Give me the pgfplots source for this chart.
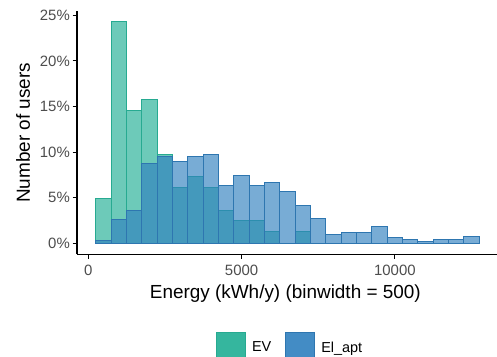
\documentclass[border=0pt]{standalone}
\usepackage{fontspec}
\setmainfont{Liberation Sans}
\usepackage{pgfplots}
\pgfplotsset{compat=1.18}
\definecolor{evc}{HTML}{1FAE94}
\definecolor{elc}{HTML}{2F80BF}
\definecolor{evline}{HTML}{27AA91}
\definecolor{elline}{HTML}{2E76B0}
\definecolor{tickgray}{HTML}{4D4D4D}
\begin{document}
\begin{tikzpicture}[x=1bp,y=1bp]
\useasboundingbox (0,0) rectangle (497,356);
\begin{axis}[
  at={(77bp,101.7bp)}, anchor=south west,
  scale only axis, width=420bp, height=243bp,
  xmin=-368, xmax=13330, ymin=-1.2, ymax=25.45,
  axis x line*=bottom, axis y line*=left,
  axis line style={black, line width=1.1bp},
  tick align=outside, major tick length=4.5bp,
  tick style={black, line width=1bp},
  xtick={0,5000,10000}, ytick={0,5,10,15,20,25},
  /pgf/number format/assume math mode=true,
  /pgf/number format/1000 sep={},
  scaled ticks=false,
  yticklabel={\pgfmathprintnumber{\tick}\%},
  ticklabel style={font=\fontsize{15}{18}\selectfont, text=tickgray},
  yticklabel style={anchor=east, inner sep=0pt, xshift=-2.5bp},
  xticklabel style={anchor=north, inner sep=0pt, yshift=-6.5bp},
  ylabel={Number of users},
  xlabel={Energy (kWh/y) (binwidth = 500)},
  label style={font=\fontsize{19}{22}\selectfont, text=black},
  ylabel style={at={(axis description cs:-0.112,0.5)}, anchor=base, inner sep=0pt},
  xlabel style={at={(axis description cs:0.496,-0.1837)}, anchor=base, inner sep=0pt},
  ybar, bar width=500, bar shift=0pt,
  legend columns=2,
  legend style={at={(axis description cs:0.331,-0.3198)}, anchor=north west,
    draw=none, fill=none, inner sep=0pt, outer sep=0pt,
    font=\fontsize{14.5}{17}\selectfont,
    nodes={inner sep=0pt},
    /tikz/every odd column/.append style={column sep=6bp},
    /tikz/every even column/.append style={column sep=14bp}},
  legend image code/.code={\draw[#1, fill opacity=0.9] (0bp,-13.8bp) rectangle (29bp,15.2bp);},
]
\addplot[fill=evc, fill opacity=0.65, draw=evline, line width=1bp] coordinates {
(500,4.9) (1000,24.3) (1500,14.6) (2000,15.8) (2500,9.76) (3000,6.1) (3500,7.3)
(4000,6.1) (4500,3.65) (5000,2.5) (5500,2.5) (6000,1.27) (6500,0) (7000,1.27)
};
\addlegendentry{EV}
\addplot[fill=elc, fill opacity=0.65, draw=elline, line width=1bp] coordinates {
(500,0.3) (1000,2.66) (1500,3.6) (2000,8.77) (2500,9.5) (3000,8.95) (3500,9.54)
(4000,9.72) (4500,6.4) (5000,7.4) (5500,6.35) (6000,6.7) (6500,5.73) (7000,4.18)
(7500,2.77) (8000,0.98) (8500,1.2) (9000,1.2) (9500,1.83) (10000,0.62)
(10500,0.47) (11000,0.25) (11500,0.47) (12000,0.47) (12500,0.8)
};
\addlegendentry{El\_apt}
\end{axis}
\end{tikzpicture}
\end{document}
